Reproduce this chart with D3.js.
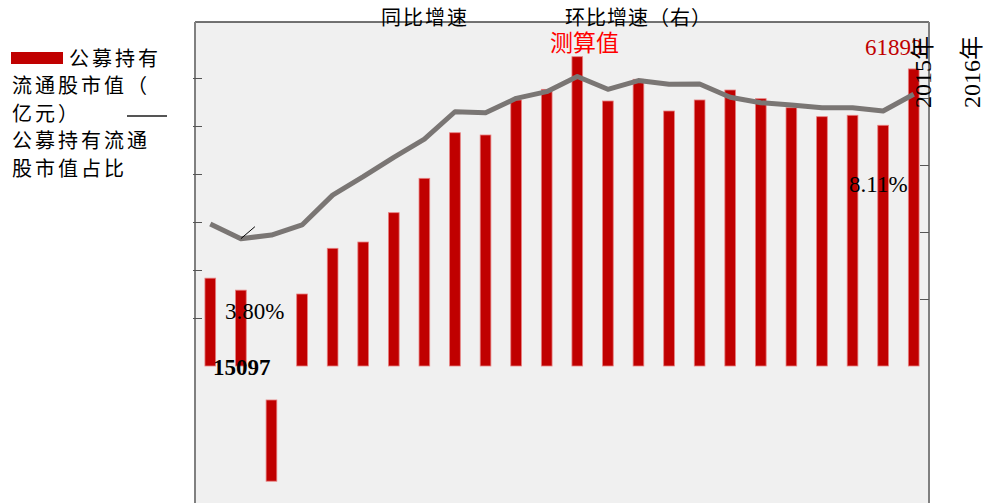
<!DOCTYPE html>
<html>
<head>
<meta charset="utf-8">
<script src="https://cdn.jsdelivr.net/npm/d3@7"></script>
<style>
  body { margin: 0; background: #fff; }
  svg { display: block; }
  .cjk { font-family: "Noto Sans CJK SC", sans-serif; }
  .num { font-family: "Liberation Serif", "Noto Sans CJK SC", serif; }
</style>
</head>
<body>
<svg width="984" height="503"></svg>
<script>
// quarters, 24 periods
const periods = ['10Q1','10Q2','10Q3','10Q4','11Q1','11Q2','11Q3','11Q4',
                 '12Q1','12Q2','12Q3','12Q4','13Q1','13Q2','13Q3','13Q4',
                 '14Q1','14Q2','14Q3','14Q4','15Q1','15Q2','15Q3','15Q4'];
// 公募持有流通股市值（亿元） - top and base of each bar
const barValues = [18300, 15800, -7080, 15000, 24520, 25830, 31940, 39100,
                   48600, 48125, 55420, 57640, 64440, 55210, 59730, 53125,
                   55420, 57500, 55690, 53810, 51940, 52230, 50150, 61893];
const barBase = [0, 0, -24000, 0, 0, 0, 0, 0, 0, 0, 0, 0,
                 0, 0, 0, 0, 0, 0, 0, 0, 0, 0, 0, 0];
// 公募持有流通股市值占比 (%)
const shareValues = [4.24, 3.80, 3.91, 4.21, 5.10, 5.65, 6.23, 6.77,
                     7.59, 7.56, 7.99, 8.19, 8.64, 8.26, 8.52, 8.41,
                     8.42, 8.02, 7.86, 7.79, 7.71, 7.71, 7.61, 8.11];
const leftTicks = [10000, 20000, 30000, 40000, 50000, 60000];
const rightTicks = [2, 4, 6, 8];
const legendLines = ['流通股市值（', '亿元）', '公募持有流通', '股市值占比'];

const plot = {l: 195, r: 929, t: 22, b: 530, base: 366};
const svg = d3.select('svg');

const x = d3.scaleBand()
    .domain(periods)
    .range([plot.l, plot.r])
    .paddingInner(0.65)
    .paddingOuter(0.325);

const yL = d3.scaleLinear()
    .domain([0, 10000])
    .range([plot.base, plot.base - 48]);

const yR = d3.scaleLinear()
    .domain([0, 10])
    .range([plot.base, plot.base - 335]);

// plot background + frame
svg.append('rect')
    .attr('x', plot.l).attr('y', plot.t)
    .attr('width', plot.r - plot.l).attr('height', plot.b - plot.t)
    .attr('fill', '#f0f0f0');
svg.append('line')
    .attr('x1', plot.l).attr('x2', plot.r).attr('y1', plot.t).attr('y2', plot.t)
    .attr('stroke', '#444').attr('stroke-width', 1.5);
[plot.l, plot.r].forEach(xx => {
    svg.append('line')
        .attr('x1', xx).attr('x2', xx).attr('y1', plot.t).attr('y2', plot.b)
        .attr('stroke', '#808080').attr('stroke-width', 2);
});

// axes (ticks only)
const axL = svg.append('g')
    .attr('transform', `translate(${plot.l - 2},0)`)
    .call(d3.axisRight(yL).tickValues(leftTicks).tickSize(9).tickFormat(''));
const axR = svg.append('g')
    .attr('transform', `translate(${plot.r},0)`)
    .call(d3.axisLeft(yR).tickValues(rightTicks).tickSize(9).tickFormat(''));
[axL, axR].forEach(a => {
    a.select('.domain').remove();
    a.selectAll('line').attr('stroke', '#555');
});

// bars
svg.append('g').selectAll('rect')
    .data(periods)
    .join('rect')
    .attr('x', d => x(d))
    .attr('width', x.bandwidth())
    .attr('y', (d, i) => yL(Math.max(barValues[i], barBase[i])))
    .attr('height', (d, i) => Math.abs(yL(barBase[i]) - yL(barValues[i])))
    .attr('fill', '#c00000')
    .attr('stroke', '#e88080')
    .attr('stroke-width', 0.8);

// share line
const line = d3.line()
    .x((d, i) => x(periods[i]) + x.bandwidth() / 2)
    .y(d => yR(d));
svg.append('path')
    .datum(shareValues)
    .attr('d', line)
    .attr('fill', 'none')
    .attr('stroke', '#7a7674')
    .attr('stroke-width', 5)
    .attr('stroke-linejoin', 'round');

// leader line for min point
const minIdx = 1;
const mx = x(periods[minIdx]) + x.bandwidth() / 2, my = yR(shareValues[minIdx]);
svg.append('line')
    .attr('x1', mx).attr('y1', my).attr('x2', mx + 14).attr('y2', my - 12)
    .attr('stroke', '#000').attr('stroke-width', 1);

// titles
svg.append('text').attr('class', 'cjk')
    .attr('x', 381).attr('y', 25)
    .style('font-size', '20px').style('letter-spacing', '2px')
    .text('同比增速');
svg.append('text').attr('class', 'cjk')
    .attr('x', 565).attr('y', 25)
    .style('font-size', '20px').style('letter-spacing', '1px')
    .text('环比增速（右）');
svg.append('text').attr('class', 'cjk')
    .attr('x', 550).attr('y', 51)
    .style('font-size', '23px').attr('fill', '#ff0000')
    .text('测算值');

// value labels
svg.append('text').attr('class', 'num')
    .attr('x', 865).attr('y', 55)
    .style('font-size', '23px').attr('fill', '#c00000')
    .text(barValues[23]);
svg.append('text').attr('class', 'num')
    .attr('x', 849).attr('y', 192)
    .style('font-size', '23px')
    .text(shareValues[23].toFixed(2) + '%');
svg.append('text').attr('class', 'num')
    .attr('x', 225).attr('y', 319)
    .style('font-size', '23px')
    .text(shareValues[minIdx].toFixed(2) + '%');
svg.append('text').attr('class', 'num')
    .attr('x', 213).attr('y', 375)
    .style('font-size', '23px').style('font-weight', 'bold')
    .text('15097');

// rotated year labels
[['2015年', 931], ['2016年', 980]].forEach(([t, xx]) => {
    svg.append('text').attr('class', 'num')
        .attr('transform', `translate(${xx},108) rotate(-90)`)
        .style('font-size', '24px')
        .text(t);
});

// legend
svg.append('rect')
    .attr('x', 11).attr('y', 52).attr('width', 52).attr('height', 12)
    .attr('fill', '#c00000');
svg.append('text').attr('class', 'cjk')
    .attr('x', 69).attr('y', 66)
    .style('font-size', '20px').style('letter-spacing', '3px')
    .text('公募持有');
legendLines.forEach((t, i) => {
    svg.append('text').attr('class', 'cjk')
        .attr('x', 12).attr('y', 93 + i * 27.5)
        .style('font-size', '20px').style('letter-spacing', '3px')
        .text(t);
});
svg.append('line')
    .attr('x1', 127).attr('x2', 167).attr('y1', 116).attr('y2', 116)
    .attr('stroke', '#555').attr('stroke-width', 2);
</script>
</body>
</html>
